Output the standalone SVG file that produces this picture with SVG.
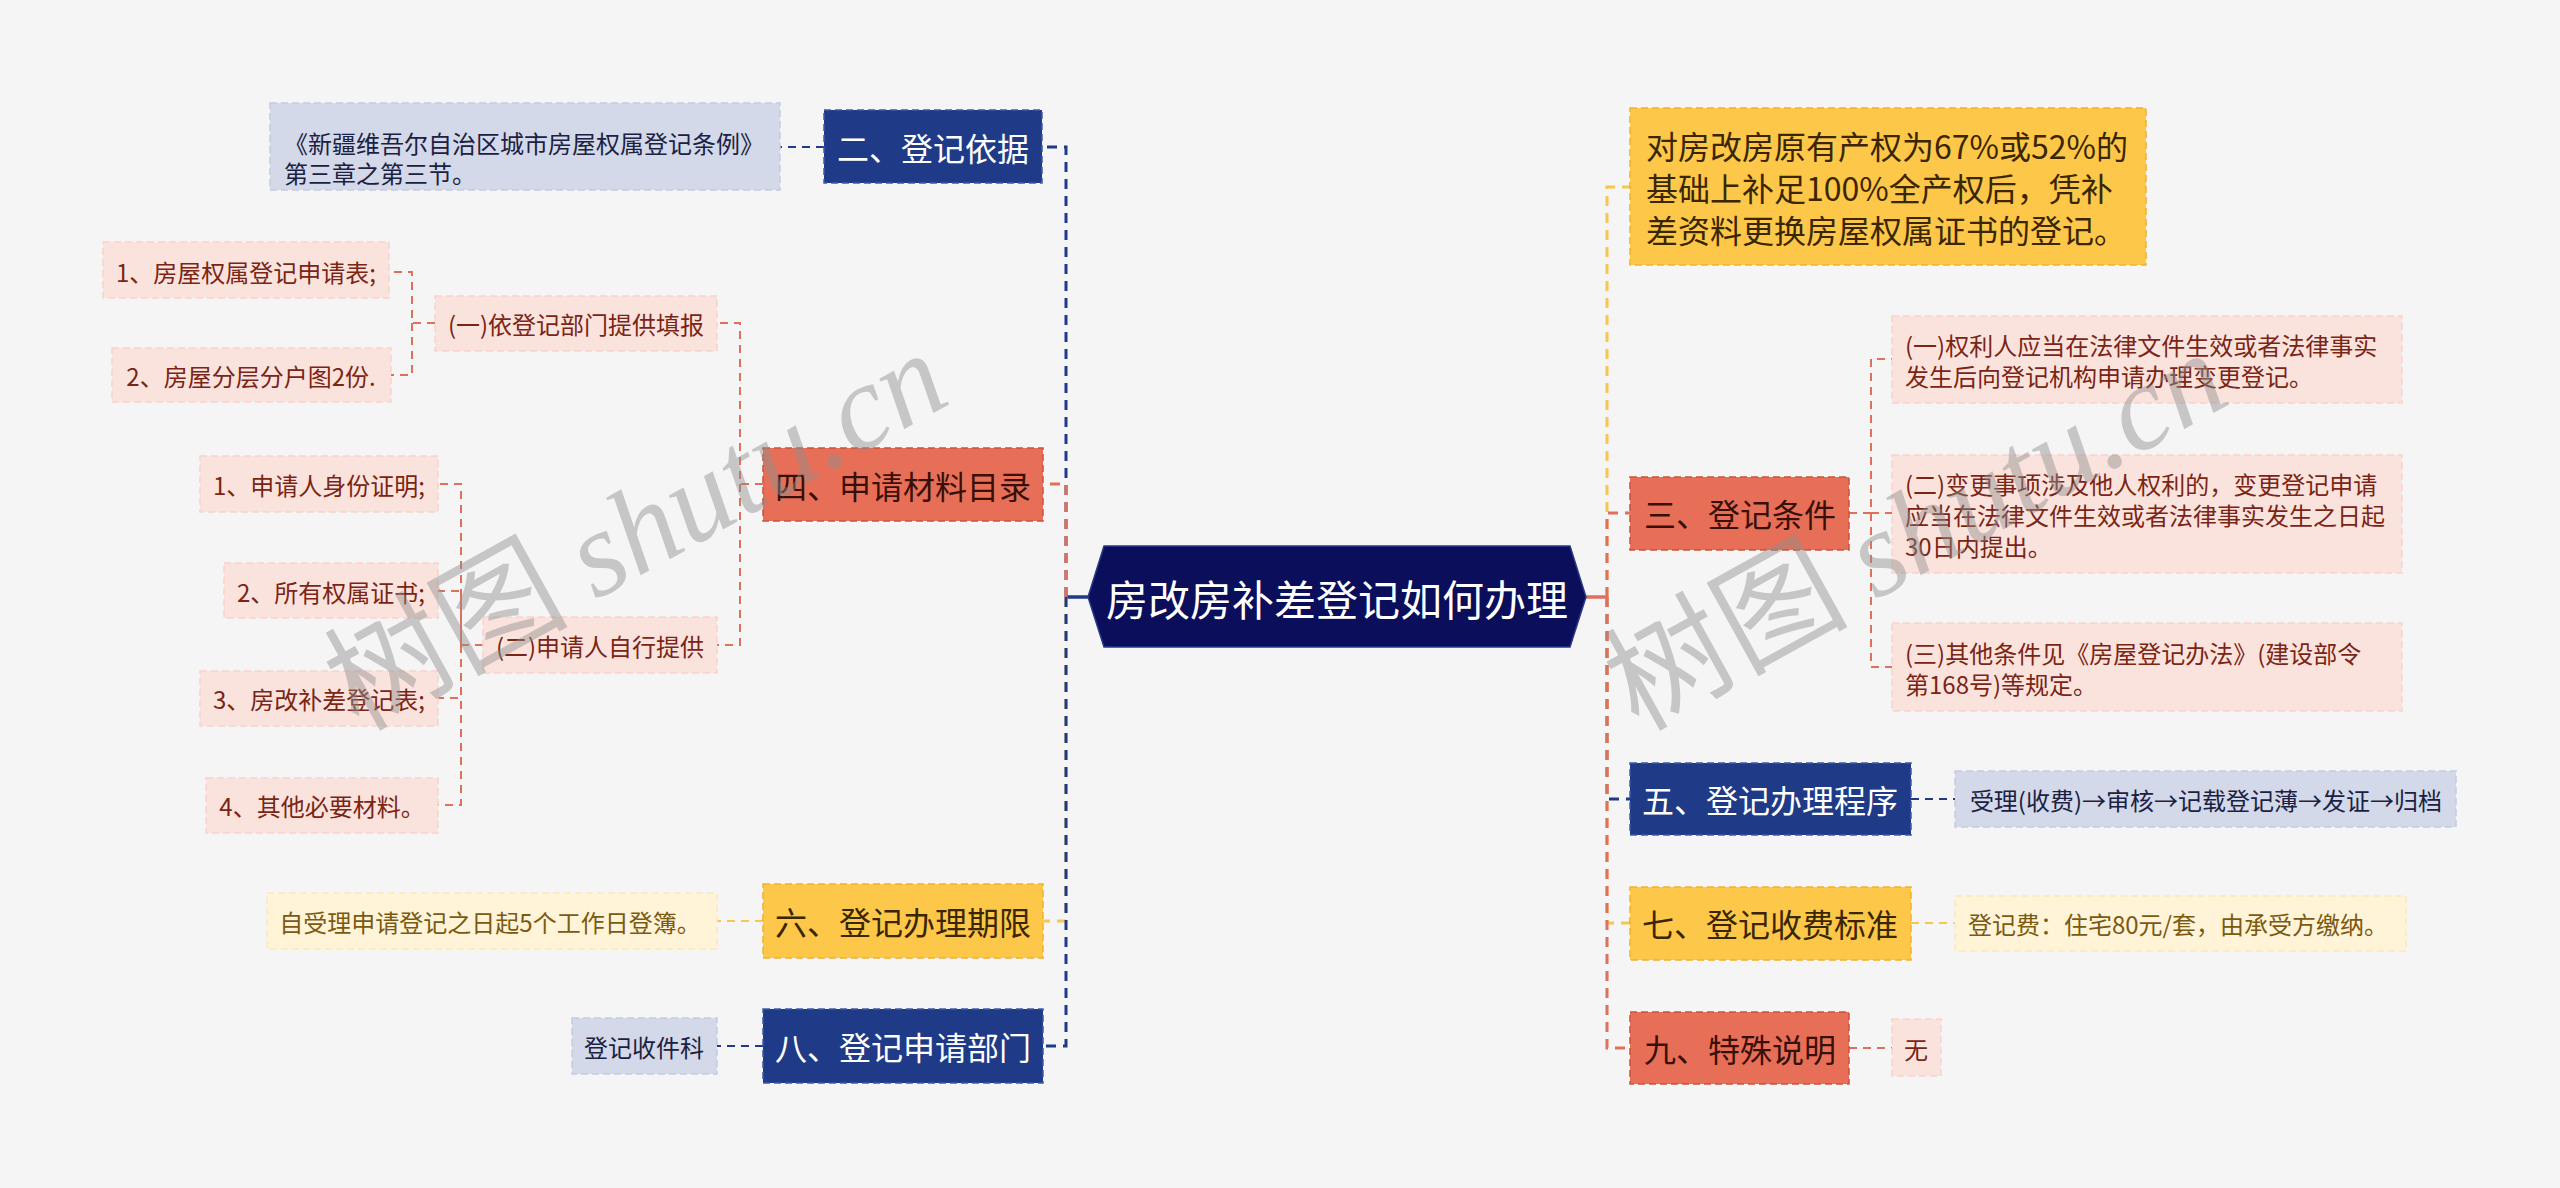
<svg xmlns="http://www.w3.org/2000/svg" width="2560" height="1188" viewBox="0 0 2560 1188">
<style>
text{font-family:"Noto Sans CJK SC","Liberation Sans",sans-serif;}
.c{text-anchor:middle;dominant-baseline:central;}
.l{dominant-baseline:central;}
.big{font-size:32px;}
.sm{font-size:24px;}
.navy{fill:#1f3b87;stroke:#3f5aa5;stroke-width:1.5;stroke-dasharray:7 4;}
.salmon{fill:#e76f58;stroke:#c9533d;stroke-width:1.5;stroke-dasharray:7 4;}
.yellow{fill:#fdc74a;stroke:#f0b32a;stroke-width:1.5;stroke-dasharray:7 4;}
.pink{fill:#fbe3dd;stroke:#f6d3ca;stroke-width:1.5;stroke-dasharray:7 4;}
.lav{fill:#d3d9e8;stroke:#c3cbe0;stroke-width:1.5;stroke-dasharray:7 4;}
.cream{fill:#fff3d8;stroke:#fbe7bd;stroke-width:1.5;stroke-dasharray:7 4;}
.tw{fill:#ffffff;}
.ts{fill:#3a0f07;}
.ty{fill:#3a2600;}
.tp{fill:#7a2515;}
.tl{fill:#1b2142;}
.tc{fill:#7a5a10;}
.ln{fill:none;stroke-width:3;stroke-dasharray:10 7;}
.sub{fill:none;stroke-width:2;stroke-dasharray:8 6;}
.cn{stroke:#1f3b87;}
.cs{stroke:#df705b;}
.cy{stroke:#f7c64e;}
.wm{font-size:122px;fill:#8f8f8f;opacity:0.45;}
</style>
<rect x="0" y="0" width="2560" height="1188" fill="#f5f5f5"/>

<g id="connectors">
  <line x1="1066" y1="597" x2="1090" y2="597" stroke="#1f3b87" stroke-width="3.5"/>
  <line x1="1584" y1="597" x2="1607" y2="597" stroke="#df705b" stroke-width="3.5"/>
  <path class="ln cn" d="M1066,597 V147 H1042"/>
  <path class="ln cs" d="M1066,597 V484 H1043"/>
  <path class="ln cy" d="M1066,597 V921 H1043"/>
  <path class="ln cn" d="M1066,597 V1046 H1043"/>
  <path class="ln cy" d="M1607,597 V187 H1630"/>
  <path class="ln cs" d="M1607,597 V513 H1630"/>
  <path class="ln cn" d="M1607,597 V799 H1630"/>
  <path class="ln cy" d="M1607,597 V923 H1630"/>
  <path class="ln cs" d="M1607,597 V1048 H1630"/>
  <path class="sub cn" stroke-width="2.5" d="M824,147 H780"/>
  <path class="sub cs" d="M763,484 H740 V323 H717"/>
  <path class="sub cs" d="M740,484 V645 H717"/>
  <path class="sub cs" d="M435,323 H412 V272 H389"/>
  <path class="sub cs" d="M412,323 V375 H391"/>
  <path class="sub cs" d="M483,645 H461 V484 H438"/>
  <path class="sub cs" d="M461,645 V591 H438"/>
  <path class="sub cs" d="M461,645 V698 H438"/>
  <path class="sub cs" d="M461,645 V805 H438"/>
  <path class="sub cy" stroke-width="2.5" d="M763,921 H717"/>
  <path class="sub cn" stroke-width="2.5" d="M763,1046 H717"/>
  <path class="sub cs" d="M1849,513 H1871 V359 H1892"/>
  <path class="sub cs" d="M1871,513 V667 H1892"/>
  <path class="sub cs" d="M1871,513 H1892"/>
  <path class="sub cn" stroke-width="2.5" d="M1911,799 H1955"/>
  <path class="sub cy" stroke-width="2.5" d="M1911,923 H1955"/>
  <path class="sub cs" stroke-width="2.5" d="M1849,1048 H1892"/>
</g>

<g id="center">
  <polygon points="1088,597 1104,546 1570,546 1586,597 1570,647 1104,647" fill="#0b0e5b" stroke="#2a3a86" stroke-width="1.5"/>
  <text class="c tw" x="1337" y="597" font-size="42">房改房补差登记如何办理</text>
</g>

<g id="n-yijiyiju">
  <rect class="navy" x="824" y="110" width="218" height="73"/>
  <text class="c big tw" x="933" y="147">二、登记依据</text>
</g>
<g id="n-tiaoli">
  <rect class="lav" x="270" y="103" width="510" height="87"/>
  <text class="sm tl" x="284" y="142" dominant-baseline="central">《新疆维吾尔自治区城市房屋权属登记条例》</text>
  <text class="sm tl" x="284" y="172" dominant-baseline="central">第三章之第三节。</text>
</g>

<g id="n-cailiao">
  <rect class="salmon" x="763" y="448" width="280" height="73"/>
  <text class="c big ts" x="903" y="485">四、申请材料目录</text>
</g>
<g id="n-bumen-tigong">
  <rect class="pink" x="435" y="296" width="282" height="55"/>
  <text class="c sm tp" x="576" y="323">(一)依登记部门提供填报</text>
</g>
<g id="n-shenqingbiao">
  <rect class="pink" x="103" y="242" width="286" height="56"/>
  <text class="c sm tp" x="246" y="271">1、房屋权属登记申请表;</text>
</g>
<g id="n-fenhutu">
  <rect class="pink" x="112" y="348" width="279" height="54"/>
  <text class="c sm tp" x="251" y="375">2、房屋分层分户图2份.</text>
</g>
<g id="n-ziheng">
  <rect class="pink" x="483" y="617" width="234" height="56"/>
  <text class="c sm tp" x="600" y="645">(二)申请人自行提供</text>
</g>
<g id="n-shenfen">
  <rect class="pink" x="200" y="456" width="238" height="56"/>
  <text class="c sm tp" x="319" y="484">1、申请人身份证明;</text>
</g>
<g id="n-quanshu">
  <rect class="pink" x="224" y="563" width="214" height="55"/>
  <text class="c sm tp" x="331" y="591">2、所有权属证书;</text>
</g>
<g id="n-buchabiao">
  <rect class="pink" x="200" y="671" width="238" height="55"/>
  <text class="c sm tp" x="319" y="698">3、房改补差登记表;</text>
</g>
<g id="n-qita">
  <rect class="pink" x="206" y="778" width="232" height="55"/>
  <text class="c sm tp" x="322" y="805">4、其他必要材料。</text>
</g>

<g id="n-qixian">
  <rect class="yellow" x="763" y="884" width="280" height="74"/>
  <text class="c big ty" x="903" y="921">六、登记办理期限</text>
</g>
<g id="n-qixian-c">
  <rect class="cream" x="267" y="893" width="450" height="56"/>
  <text class="c sm tc" x="490" y="921">自受理申请登记之日起5个工作日登簿。</text>
</g>

<g id="n-bumen">
  <rect class="navy" x="763" y="1009" width="280" height="74"/>
  <text class="c big tw" x="903" y="1046">八、登记申请部门</text>
</g>
<g id="n-bumen-c">
  <rect class="lav" x="572" y="1018" width="145" height="56"/>
  <text class="c sm tl" x="644" y="1046">登记收件科</text>
</g>

<g id="n-dingyi">
  <rect class="yellow" x="1630" y="108" width="516" height="157"/>
  <text class="l big ty" x="1646" y="145">对房改房原有产权为67%或52%的</text>
  <text class="l big ty" x="1646" y="187">基础上补足100%全产权后，凭补</text>
  <text class="l big ty" x="1646" y="229">差资料更换房屋权属证书的登记。</text>
</g>

<g id="n-tiaojian">
  <rect class="salmon" x="1630" y="477" width="219" height="73"/>
  <text class="c big ts" x="1740" y="513">三、登记条件</text>
</g>
<g id="n-tj1">
  <rect class="pink" x="1892" y="316" width="510" height="87"/>
  <text class="l sm tp" x="1905" y="344">(一)权利人应当在法律文件生效或者法律事实</text>
  <text class="l sm tp" x="1905" y="375">发生后向登记机构申请办理变更登记。</text>
</g>
<g id="n-tj2">
  <rect class="pink" x="1892" y="455" width="510" height="118"/>
  <text class="l sm tp" x="1905" y="483">(二)变更事项涉及他人权利的，变更登记申请</text>
  <text class="l sm tp" x="1905" y="514">应当在法律文件生效或者法律事实发生之日起</text>
  <text class="l sm tp" x="1905" y="545">30日内提出。</text>
</g>
<g id="n-tj3">
  <rect class="pink" x="1892" y="623" width="510" height="88"/>
  <text class="l sm tp" x="1905" y="652">(三)其他条件见《房屋登记办法》(建设部令</text>
  <text class="l sm tp" x="1905" y="683">第168号)等规定。</text>
</g>

<g id="n-chengxu">
  <rect class="navy" x="1630" y="763" width="281" height="72"/>
  <text class="c big tw" x="1770" y="799">五、登记办理程序</text>
</g>
<g id="n-chengxu-c">
  <rect class="lav" x="1955" y="771" width="501" height="56"/>
  <text class="c sm tl" x="2206" y="799">受理(收费)→审核→记载登记薄→发证→归档</text>
</g>

<g id="n-shoufei">
  <rect class="yellow" x="1630" y="887" width="281" height="73"/>
  <text class="c big ty" x="1770" y="923">七、登记收费标准</text>
</g>
<g id="n-shoufei-c">
  <rect class="cream" x="1955" y="896" width="451" height="55"/>
  <text class="c sm tc" x="2178" y="923">登记费：住宅80元/套，由承受方缴纳。</text>
</g>

<g id="n-shuoming">
  <rect class="salmon" x="1630" y="1012" width="219" height="72"/>
  <text class="c big ts" x="1740" y="1048">九、特殊说明</text>
</g>
<g id="n-shuoming-c">
  <rect class="pink" x="1892" y="1019" width="49" height="57"/>
  <text class="c sm tp" x="1916" y="1048">无</text>
</g>

<g id="watermark">
  <text class="wm" transform="translate(358,732) rotate(-29)">树图 <tspan font-family="Liberation Serif" font-style="italic">shutu.cn</tspan></text>
  <text class="wm" transform="translate(1638,732) rotate(-29)">树图 <tspan font-family="Liberation Serif" font-style="italic">shutu.cn</tspan></text>
</g>
</svg>
